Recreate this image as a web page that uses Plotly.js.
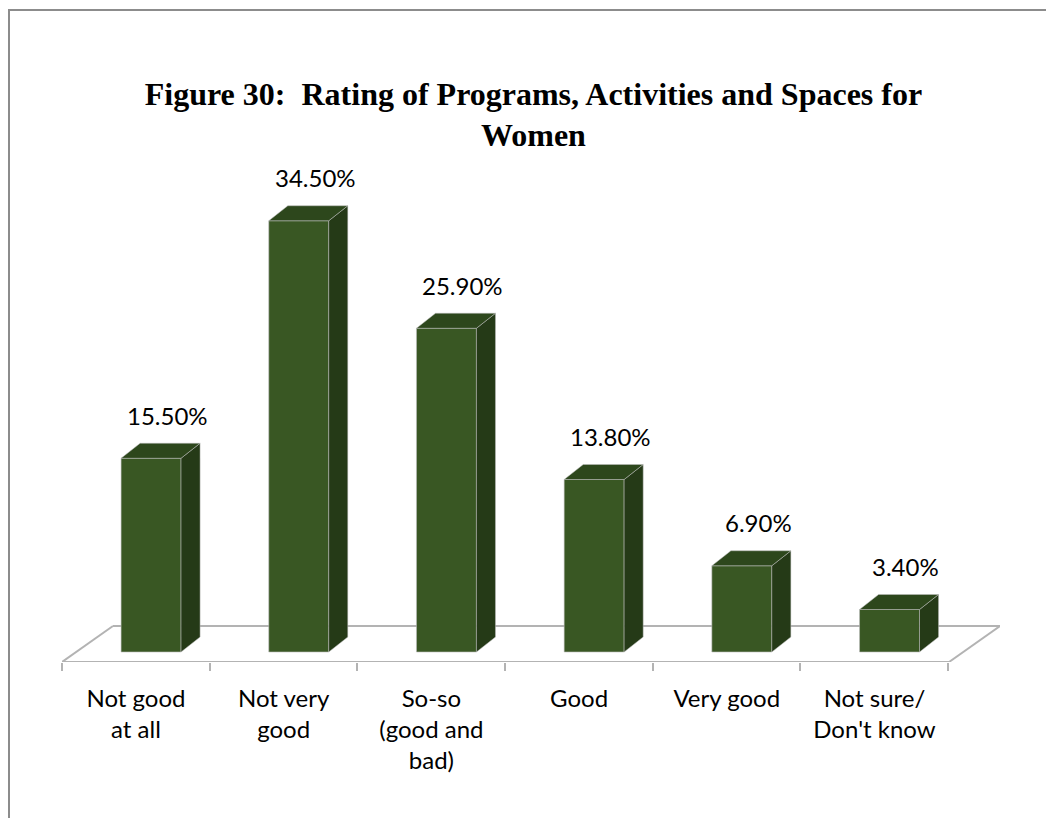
<!DOCTYPE html>
<html>
<head>
<meta charset="utf-8">
<script src="https://cdn.plot.ly/plotly-3.0.1.min.js"></script>
<style>
  body { margin: 0; background: #fff; overflow: hidden; }
  #chart { position: absolute; left: 0; top: 0; width: 1046px; height: 818px; }
  #frame { position: absolute; left: 8px; top: 9px; width: 1200px; height: 1000px;
           border: 2px solid #8c8c8c; pointer-events: none; }
</style>
</head>
<body>
<div id="chart"></div>
<div id="frame"></div>
<script>
const categories = ['Not good<br>at all', 'Not very<br>good', 'So-so<br>(good and<br>bad)', 'Good', 'Very good', 'Not sure/<br>Don\'t know'];
const percents = [15.5, 34.5, 25.9, 13.8, 6.9, 3.4];
const valueLabels = ['15.50%', '34.50%', '25.90%', '13.80%', '6.90%', '3.40%'];

// fake 3d geometry, in axis units
const barW = 0.406;
const depthX = 0.129;
const depthY = 1.2;
const xMin = -0.603, xMax = 5.748;
const yMin = -0.8, yMax = 40;
const floorDX = 0.345, floorDY = 2.88;

const frontColor = '#395723';
const topColor = '#2d471c';
const sideColor = '#253a17';

const idx = percents.map((v, i) => i);

let traces = [{
    x: idx,
    y: percents,
    type: 'bar',
    width: barW,
    marker: { color: frontColor, line: { color: 'rgba(190,190,190,0.6)', width: 1 } },
    hoverinfo: 'skip'
}];

percents.forEach((v, i) => {
    let l = i - barW / 2, r = i + barW / 2;
    // side face
    traces.push({
        x: [r, r + depthX, r + depthX, r, r],
        y: [0, depthY, v + depthY, v, 0],
        mode: 'lines', fill: 'toself', fillcolor: sideColor,
        line: { color: 'rgba(190,190,190,0.5)', width: 1 },
        hoverinfo: 'skip'
    });
    // top face
    traces.push({
        x: [l, l + depthX, r + depthX, r, l],
        y: [v, v + depthY, v + depthY, v, v],
        mode: 'lines', fill: 'toself', fillcolor: topColor,
        line: { color: 'rgba(190,190,190,0.5)', width: 1 },
        hoverinfo: 'skip'
    });
});

// dummy trace so the tick axis gets drawn
traces.push({ x: [xMin], y: [yMin], xaxis: 'x2', mode: 'markers', marker: { opacity: 0 }, hoverinfo: 'skip' });

let annotations = percents.map((v, i) => ({
    x: i + 0.11,
    y: v + depthY,
    text: valueLabels[i],
    showarrow: false,
    yanchor: 'middle',
    yshift: 28,
    font: { family: 'Lato, sans-serif', size: 24, color: '#000' }
}));

let floorColor = '#b3b3b3';
let fx0 = xMin, fx1 = xMax - floorDX;
let shapes = [
    { type: 'line', x0: fx0, x1: fx1, y0: yMin, y1: yMin, layer: 'below', line: { color: floorColor, width: 2 } },
    { type: 'line', x0: fx0 + floorDX, x1: fx1 + floorDX, y0: yMin + floorDY, y1: yMin + floorDY, layer: 'below', line: { color: floorColor, width: 2 } },
    { type: 'line', x0: fx0, x1: fx0 + floorDX, y0: yMin, y1: yMin + floorDY, layer: 'below', line: { color: floorColor, width: 2 } },
    { type: 'line', x0: fx1, x1: fx1 + floorDX, y0: yMin, y1: yMin + floorDY, layer: 'below', line: { color: floorColor, width: 2 } }
];

let layout = {
    width: 1046,
    height: 818,
    showlegend: false,
    paper_bgcolor: 'rgba(0,0,0,0)',
    plot_bgcolor: 'rgba(0,0,0,0)',
    margin: { l: 62, r: 46, t: 152, b: 156 },
    title: {
        text: 'Figure 30:  Rating of Programs, Activities and Spaces for<br>Women',
        font: { family: 'Liberation Serif, serif', size: 32, color: '#000', weight: 'bold' },
        x: 0.51, xanchor: 'center',
        y: 0.872, yanchor: 'top', yref: 'container'
    },
    xaxis: {
        range: [xMin, xMax],
        tickvals: idx.map(i => i - 0.102),
        ticktext: categories,
        ticks: '',
        ticklabelstandoff: 20,
        showgrid: false, zeroline: false, showline: false,
        tickfont: { family: 'Lato, sans-serif', size: 24, color: '#000' }
    },
    xaxis2: {
        overlaying: 'x',
        anchor: 'y',
        side: 'bottom',
        range: [xMin, xMax],
        tickvals: [0, 1, 2, 3, 4, 5, 6].map(k => xMin + k),
        ticks: 'outside', ticklen: 8, tickwidth: 2, tickcolor: floorColor,
        showticklabels: false, showgrid: false, zeroline: false, showline: false
    },
    yaxis: { range: [yMin, yMax], visible: false },
    annotations: annotations,
    shapes: shapes
};

Plotly.newPlot('chart', traces, layout, { staticPlot: true });
</script>
</body>
</html>
